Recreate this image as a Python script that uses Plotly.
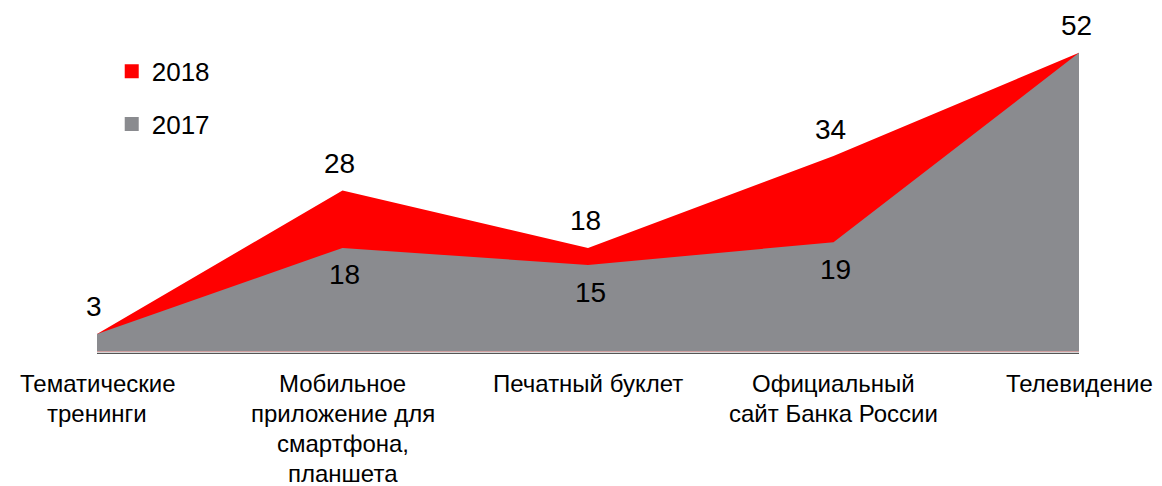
import plotly.graph_objects as go

# categories (one list of lines per tick label)
categories = [
    ["Тематические", "тренинги"],
    ["Мобильное", "приложение для", "смартфона,", "планшета"],
    ["Печатный буклет"],
    ["Официальный", "сайт Банка России"],
    ["Телевидение"],
]
values_2018 = [3, 28, 18, 34, 52]
values_2017 = [3, 18, 15, 19, 52]
labels_2017 = [None, 18, 15, 19, None]  # only these are labelled in the source

RED = "#ff0000"
GRAY = "#8a8b8f"
FONT = "Liberation Sans, Arial, sans-serif"

xs = list(range(len(categories)))

fig = go.Figure()

# 2018 behind, 2017 in front (overlapping, not stacked)
fig.add_trace(go.Scatter(x=xs, y=values_2018, fill="tozeroy", mode="lines",
                         line=dict(color=RED, width=0), fillcolor=RED,
                         showlegend=False, hoverinfo="skip"))
fig.add_trace(go.Scatter(x=xs, y=values_2017, fill="tozeroy", mode="lines",
                         line=dict(color=GRAY, width=0), fillcolor=GRAY,
                         showlegend=False, hoverinfo="skip"))

# legend entries as small squares
fig.add_trace(go.Scatter(x=[None], y=[None], mode="markers", name="2018",
                         legendgroup="a",
                         marker=dict(symbol="square", size=14, color=RED)))
fig.add_trace(go.Scatter(x=[None], y=[None], mode="markers", name="2017",
                         legendgroup="b",
                         marker=dict(symbol="square", size=14, color=GRAY)))

# floor edge of the 3d area
fig.add_shape(type="rect", xref="x", yref="y", x0=0, x1=4.01, y0=-0.45, y1=0,
              fillcolor="#d4d4d4", line=dict(width=0), layer="below")
fig.add_shape(type="line", xref="x", yref="y", x0=0, x1=4.01, y0=-0.45, y1=-0.45,
              line=dict(color="#555555", width=1.5))
fig.add_shape(type="line", xref="x", yref="y", x0=4.005, x1=4.005, y0=0, y1=values_2017[-1],
              line=dict(color="#7a6f72", width=2))

annotations = []
for i, v in enumerate(values_2018):
    annotations.append(dict(x=i, y=v, xref="x", yref="y", text=str(v),
                            showarrow=False, yshift=27, xshift=-3,
                            font=dict(size=28, color="black", family=FONT)))
for i, v in enumerate(labels_2017):
    if v is None:
        continue
    annotations.append(dict(x=i, y=values_2017[i], xref="x", yref="y", text=str(v),
                            showarrow=False, yshift=-27, xshift=2,
                            font=dict(size=28, color="black", family=FONT)))
for i, lines in enumerate(categories):
    for k, line in enumerate(lines):
        annotations.append(dict(x=i, y=0, xref="x", yref="paper", text=line,
                                showarrow=False, yanchor="middle",
                                yshift=-29 - 30 * k,
                                font=dict(size=24, color="black", family=FONT)))

# page body adds an 8px offset, so the figure is 8px smaller
fig.update_layout(
    width=1154, height=478,
    margin=dict(l=89, r=83, t=7, b=132),
    paper_bgcolor="white", plot_bgcolor="white",
    font=dict(family=FONT, color="black"),
    xaxis=dict(range=[0, 4], showgrid=False, zeroline=False, showline=False,
               showticklabels=False, fixedrange=True),
    yaxis=dict(range=[-0.5, 58.6], showgrid=False, zeroline=False, showline=False,
               showticklabels=False, fixedrange=True),
    legend=dict(x=0.015, y=0.903, xanchor="left", yanchor="top",
                font=dict(size=26, family=FONT), tracegroupgap=16,
                bgcolor="rgba(0,0,0,0)", itemwidth=30),
    annotations=annotations,
)

fig.write_html("out.html")
